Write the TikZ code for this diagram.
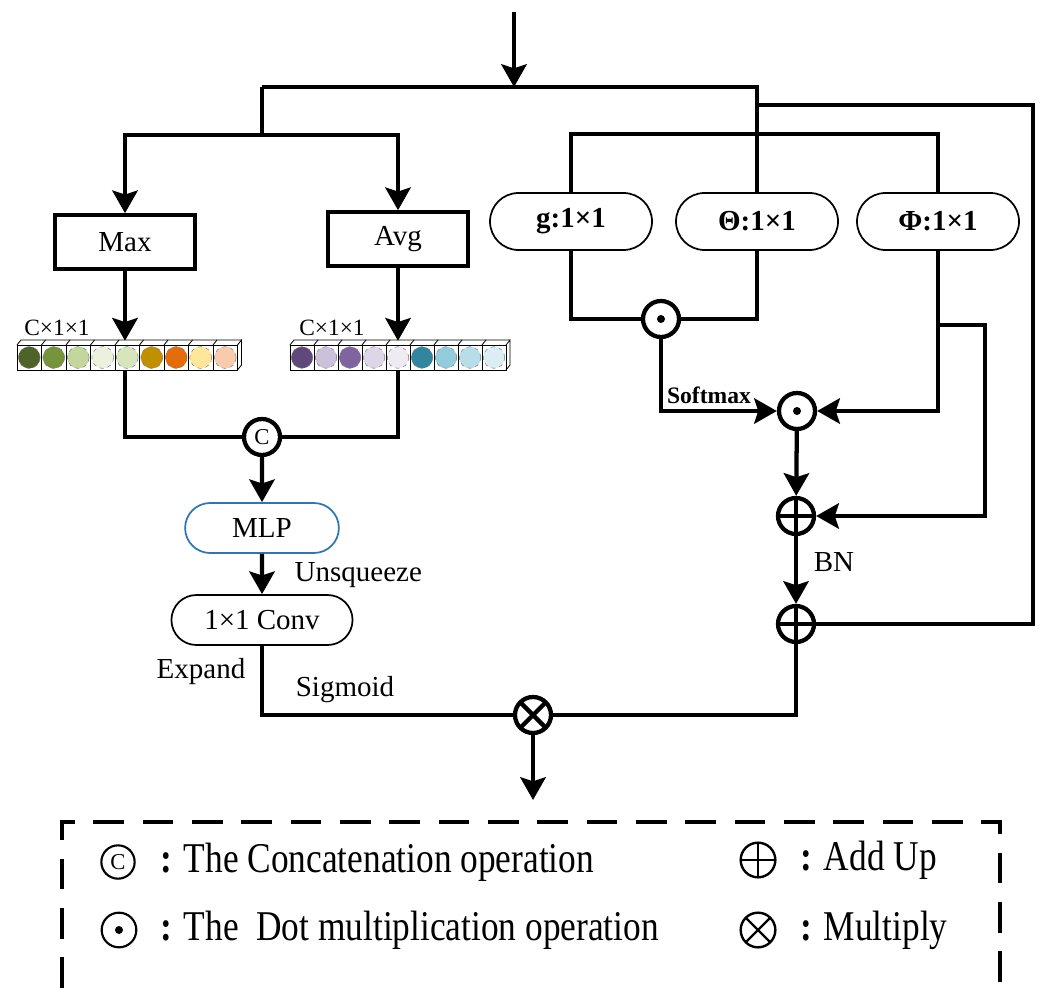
\documentclass[tikz,border=0pt]{standalone}
\usepackage{fontspec}
\usepackage{graphicx}
\setmainfont{Liberation Serif}
\usetikzlibrary{arrows.meta,shapes.misc,calc}
\tikzset{>={Stealth[length=17pt,width=19pt,inset=3pt]}}

% cube colours of the two pooled vectors
\definecolor{mlpblue}{HTML}{2E75B6}
\definecolor{mxA}{HTML}{4F6228}\definecolor{mxB}{HTML}{77933C}\definecolor{mxC}{HTML}{C3D69B}
\definecolor{mxD}{HTML}{EBF1DE}\definecolor{mxE}{HTML}{D7E4BC}\definecolor{mxF}{HTML}{BF9000}
\definecolor{mxG}{HTML}{E46C0A}\definecolor{mxH}{HTML}{FFE699}\definecolor{mxI}{HTML}{F8CBAD}
\definecolor{avA}{HTML}{5F497A}\definecolor{avB}{HTML}{CCC1DA}\definecolor{avC}{HTML}{8064A2}
\definecolor{avD}{HTML}{DCD6E6}\definecolor{avE}{HTML}{EEEBF3}\definecolor{avF}{HTML}{31859C}
\definecolor{avG}{HTML}{93CDDD}\definecolor{avH}{HTML}{B7DEE8}\definecolor{avI}{HTML}{DAEEF3}

\newcommand\legendtext[1]{\scalebox{1}[1.2]{#1}}

\begin{document}
\begin{tikzpicture}[x=0.75pt,y=-0.75pt,
    font=\fontsize{21.75pt}{26pt}\selectfont,
    wire/.style={line width=3.2pt},
    poolbox/.style={draw, line width=3.2pt, minimum width=105pt, minimum height=40pt, inner sep=0pt},
    pill/.style={draw, rounded rectangle, line width=1.3pt, minimum width=121.5pt, minimum height=42.75pt, inner sep=0pt,
        font=\fontsize{21.75pt}{26pt}\selectfont\bfseries},
    cube/.style={line width=0.6pt},
    opnode/.style={circle, draw, line width=#1, minimum size=27pt, inner sep=0pt},
    opnode/.default=3.2pt,
    catop/.style={opnode=#1, font=\fontsize{17pt}{17pt}\selectfont},
    catop/.default=3.2pt,
    dotop/.style={opnode=#1, path picture={\fill (path picture bounding box.center) circle (3pt);}},
    dotop/.default=3.2pt,
    plusop/.style={opnode=#1, path picture={\draw[line width=#1]
        (path picture bounding box.north) -- (path picture bounding box.south)
        (path picture bounding box.west) -- (path picture bounding box.east);}},
    plusop/.default=3.2pt,
    mulop/.style={opnode=#1, path picture={\draw[line width=#1]
        (path picture bounding box.north west) -- (path picture bounding box.south east)
        (path picture bounding box.north east) -- (path picture bounding box.south west);}},
    mulop/.default=3.2pt,
    legend/.style={anchor=west, inner sep=0pt, font=\fontsize{26.5pt}{30pt}\selectfont},
]
\useasboundingbox (0,0) rectangle (1044,988);

% channel branch
\node[poolbox] (maxb) at (125,242) {Max};
\node[poolbox] (avgb) at (398,239) {Avg};
\node[inner sep=0pt, minimum width=168pt, minimum height=21.75pt] (barL) at (129,355.5) {};
\node[inner sep=0pt, minimum width=165pt, minimum height=21.75pt] (barR) at (400,355.5) {};
\node[font=\fontsize{17.5pt}{18pt}\selectfont] at (57,328) {C×1×1};
\node[font=\fontsize{17.5pt}{18pt}\selectfont] at (332,328) {C×1×1};
\node[catop] (cat) at (262,437) {C};
\node[draw=mlpblue, rounded rectangle, line width=1.3pt, minimum width=122pt, minimum height=37.5pt] (mlp) at (262,528) {MLP};
\node[draw, rounded rectangle, line width=1.3pt, minimum width=142.5pt, minimum height=37.5pt] (conv) at (262,620) {1×1 Conv};

% non-local branch
\node[pill] (g) at (571,221.5) {g:1×1};
\node[pill] (theta) at (757,221.5) {Θ:1×1};
\node[pill] (phi) at (938,221.5) {Φ:1×1};
\node[dotop] (dot1) at (661,319) {};
\node[dotop] (dot2) at (797,411) {};
\node[plusop] (add1) at (796,516) {};
\node[plusop] (add2) at (796,624) {};
\node[mulop] (mul) at (533,715) {};

% pooled vectors
\foreach \col [count=\i from 0] in {mxA,mxB,mxC,mxD,mxE,mxF,mxG,mxH,mxI} {
    \pgfmathsetmacro\xa{17+24.5*\i}
    \draw[cube] (\xa,345) rectangle ++(24.5,25);
    \draw[cube] (\xa,345) -- ++(4,-5) -- ++(24.5,0);
    \fill[\col] (\xa+12.25,357.5) circle (8.2pt);
    \draw[gray, dashed, line width=0.4pt] (\xa+12.25,357.5) circle (8.2pt);
}
\draw[cube] (237.5,345) -- ++(4,-5) -- ++(0,25) -- ++(-4,5);
\foreach \col [count=\i from 0] in {avA,avB,avC,avD,avE,avF,avG,avH,avI} {
    \pgfmathsetmacro\xa{290+24*\i}
    \draw[cube] (\xa,345) rectangle ++(24,25);
    \draw[cube] (\xa,345) -- ++(4,-5) -- ++(24,0);
    \fill[\col] (\xa+12,357.5) circle (8.1pt);
    \draw[gray, dashed, line width=0.4pt] (\xa+12,357.5) circle (8.1pt);
}
\draw[cube] (506,345) -- ++(4,-5) -- ++(0,25) -- ++(-4,5);

% connectors
\coordinate (src) at (514,12);
\coordinate (top) at (514,87);
\coordinate (topl) at (262,87);
\coordinate (topr) at (757,87);
\coordinate (split) at (262,135);
\coordinate (skip) at (757,105);
\coordinate (skipr) at (1033,105);
\coordinate (phib) at (938,325);
\coordinate (phir) at (985,325);
\coordinate (out) at (533,800);

\draw[wire,->] (src) -- (top);
\draw[wire] (topl) -- (topr) -- (theta.north);
\draw[wire] (topl) -- (split);
\draw[wire,->] (split) -| (maxb.north);
\draw[wire,->] (split) -| (avgb.north);
\draw[wire] (skip) -- (skipr) |- (add2.east);
\draw[wire] (g.north) -- ++(0,-58) -| (phi.north);

\draw[wire,->] (maxb.south) -- (maxb.south |- barL.north);
\draw[wire,->] (avgb.south) -- (avgb.south |- barR.north);
\draw[wire] (maxb.south |- barL.south) |- (cat.west);
\draw[wire] (avgb.south |- barR.south) |- (cat.east);
\draw[wire,->] (cat) -- (mlp);
\draw[wire,->] (mlp) -- (conv);
\node[anchor=west] at (290,575) {Unsqueeze};
\draw[wire] (conv.south) |- (mul.west);
\node at (201,672) {Expand};
\node at (345,690) {Sigmoid};
\draw[wire,->] (mul) -- (out);

\draw[wire] (g.south) |- (dot1.west);
\draw[wire] (theta.south) |- (dot1.east);
\draw[wire,->] (dot1.south) |- (dot2.west);
\node[font=\fontsize{17.7pt}{18pt}\selectfont\bfseries] at (709,395) {Softmax};
\draw[wire,->] (phi.south) |- (dot2.east);
\draw[wire,->] (phib) -- (phir) |- (add1.east);
\draw[wire,->] (dot2) -- (add1);
\draw[wire,->] (add1) -- (add2);
\node at (834,562) {BN};
\draw[wire] (add2.south) |- (mul.east);

% legend
\draw[line width=2.6pt, dash pattern=on 23pt off 14pt] (62,988) -- (62,822) -- (1000,822) -- (1000,988);
\node[catop=1.6pt, minimum size=25pt] (lcat) at (118,862) {C};
\node[dotop=1.6pt, minimum size=26pt] (ldot) at (119,930) {};
\node[plusop=1.8pt, minimum size=26pt] (ladd) at (758,860) {};
\node[mulop=1.8pt, minimum size=26pt] (lmul) at (758,930) {};
\node[legend] at (160,862) {\legendtext{\textbf{:} The Concatenation operation}};
\node[legend] at (160,930) {\legendtext{\textbf{:} The\ \ Dot multiplication operation}};
\node[legend] at (800,860) {\legendtext{\textbf{:} Add Up}};
\node[legend] at (800,930) {\legendtext{\textbf{:} Multiply}};
\end{tikzpicture}
\end{document}
